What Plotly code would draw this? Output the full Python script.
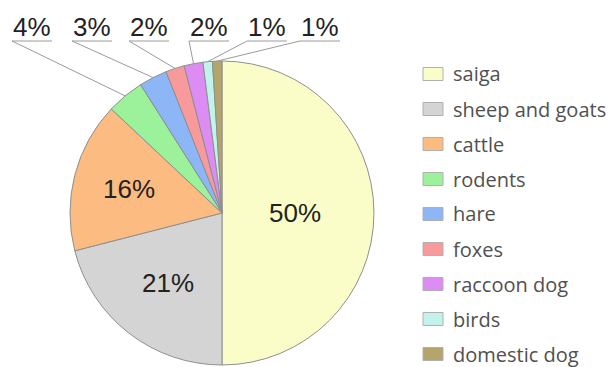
import math
import plotly.graph_objects as go

# Diet composition (share of occurrences, %)
labels = ["saiga", "sheep and goats", "cattle", "rodents", "hare",
          "foxes", "raccoon dog", "birds", "domestic dog"]
values = [50, 21, 16, 4, 3, 2, 2, 1, 1]
colors = ["#fbfdc9", "#d4d4d4", "#fcbb80", "#9cf29a", "#8cb6f5",
          "#f89a9c", "#dc8cf3", "#c0f4ea", "#b3a56c"]

# Slices labelled inside the pie vs. with call-out labels above it
inside_labels = {0: 0.48, 1: 0.58, 2: 0.63}      # index -> radial fraction
callout_x = [12, 72, 129, 189, 247, 300]          # left edge of each call-out (px)
callout_w = 40
callout_text_y = 27
callout_line_y = 41

W, H = 611, 367
CX, CY, R = 222, 213, 152


def px(x):
    return x / W


def py(y):
    return 1 - y / H


fig = go.Figure(go.Pie(
    labels=labels,
    values=values,
    sort=False,
    direction="clockwise",
    rotation=0,
    marker=dict(colors=colors, line=dict(color="#8f8f8f", width=1)),
    textinfo="none",
    hoverinfo="label+percent",
    showlegend=False,
    domain=dict(x=[px(CX - R), px(CX + R)], y=[py(CY + R), py(CY - R)]),
))

total = sum(values)
annotations = []
shapes = []

# mid-angle of every slice, clockwise from 12 o'clock
mids = []
acc = 0
for v in values:
    mids.append((acc + v / 2) / total * 2 * math.pi)
    acc += v

num_font = dict(family="Liberation Sans, Arial", size=26, color="#222222")

for i, frac in inside_labels.items():
    a = mids[i]
    x = CX + frac * R * math.sin(a)
    y = CY - frac * R * math.cos(a)
    annotations.append(dict(
        x=px(x), y=py(y), xref="paper", yref="paper", showarrow=False,
        xanchor="center", yanchor="middle",
        text=f"{round(values[i] / total * 100)}%", font=num_font,
    ))

small = [i for i in range(len(values)) if i not in inside_labels]
for k, i in enumerate(small):
    a = mids[i]
    ex = CX + R * math.sin(a)
    ey = CY - R * math.cos(a)
    lx = callout_x[k]
    annotations.append(dict(
        x=px(lx + callout_w / 2), y=py(callout_text_y), xref="paper", yref="paper",
        xanchor="center", yanchor="middle", showarrow=False,
        text=f"{round(values[i] / total * 100)}%", font=num_font,
    ))
    shapes.append(dict(type="line", xref="paper", yref="paper",
                       x0=px(lx), y0=py(callout_line_y),
                       x1=px(lx + callout_w), y1=py(callout_line_y),
                       line=dict(color="#9a9a9a", width=1)))
    shapes.append(dict(type="line", xref="paper", yref="paper",
                       x0=px(lx), y0=py(callout_line_y),
                       x1=px(ex), y1=py(ey),
                       line=dict(color="#9a9a9a", width=1)))

# Legend
leg_x, leg_y0, leg_dy = 423, 74, 35
for i, (lab, col) in enumerate(zip(labels, colors)):
    yc = leg_y0 + i * leg_dy
    shapes.append(dict(type="rect", xref="paper", yref="paper",
                       x0=px(leg_x), x1=px(leg_x + 20),
                       y0=py(yc + 6.5), y1=py(yc - 6.5),
                       fillcolor=col, line=dict(color="#b0b0b0", width=1)))
    annotations.append(dict(
        x=px(leg_x + 28), y=py(yc), xref="paper", yref="paper",
        xanchor="left", yanchor="middle", showarrow=False, text=lab,
        font=dict(family="Open Sans", size=20, color="#505050"),
    ))

fig.update_layout(
    width=W, height=H,
    margin=dict(l=0, r=0, t=0, b=0),
    paper_bgcolor="white",
    plot_bgcolor="white",
    annotations=annotations,
    shapes=shapes,
)

fig.write_html("out.html")
